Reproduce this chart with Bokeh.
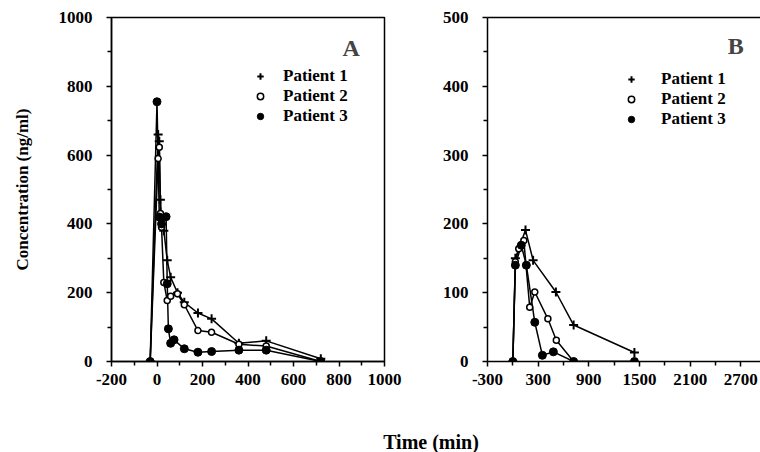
from bokeh.plotting import figure
from bokeh.models import (Legend, LegendItem, Label, LinearAxis, FixedTicker,
                          Div, Range1d)
from bokeh.layouts import row, column
from bokeh.embed import file_html
from bokeh.resources import INLINE

FONT = "Liberation Serif"

# ---------------- data: panel A ----------------
a_p1_t = [-30, 5, 10, 15, 20, 30, 45, 60, 90, 120, 180, 240, 360, 480, 720]
a_p1_c = [0, 660, 640, 470, 420, 380, 294, 245, 200, 172, 141, 124, 53, 60, 8]
a_p2_t = [-30, 5, 10, 15, 20, 30, 45, 60, 90, 120, 180, 240, 360, 480, 720]
a_p2_c = [0, 590, 623, 430, 390, 230, 177, 190, 197, 165, 90, 85, 50, 45, 0]
a_p3_t = [-30, 0, 10, 20, 40, 45, 50, 60, 75, 120, 180, 240, 360, 480, 720]
a_p3_c = [0, 755, 420, 400, 421, 226, 95, 53, 63, 37, 27, 29, 33, 33, 0]

# ---------------- data: panel B ----------------
b_p1_t = [0, 30, 150, 240, 510, 720, 1440]
b_p1_c = [0, 150, 191, 147, 101, 53, 13]
b_p2_t = [0, 30, 70, 130, 200, 260, 415, 515, 720, 1440]
b_p2_c = [0, 145, 164, 176, 79, 101, 62, 31, 0, 0]
b_p3_t = [0, 30, 100, 160, 260, 350, 480, 720, 1440]
b_p3_c = [0, 140, 169, 140, 57, 9, 14, 0, 0]

labels = ["Patient 1", "Patient 2", "Patient 3"]

a_xticks = [-200, 0, 200, 400, 600, 800, 1000]
a_xminor = [-100, 100, 300, 500, 700, 900]
a_yticks = [0, 200, 400, 600, 800, 1000]
a_yminor = [100, 300, 500, 700, 900]
b_xticks = [-300, 300, 900, 1500, 2100, 2700]
b_xminor = [0, 600, 1200, 1800, 2400]
b_yticks = [0, 100, 200, 300, 400, 500]
b_yminor = [50, 150, 250, 350, 450]


def style_axis(ax, size="17px"):
    ax.axis_line_width = 1.5
    ax.axis_line_color = "black"
    ax.major_tick_line_width = 1.5
    ax.minor_tick_line_width = 1.5
    ax.major_tick_line_color = "black"
    ax.minor_tick_line_color = "black"
    ax.major_tick_in = 0
    ax.major_tick_out = 5
    ax.minor_tick_in = 0
    ax.minor_tick_out = 4
    ax.major_label_text_font = FONT
    ax.major_label_text_font_style = "bold"
    ax.major_label_text_font_size = size
    ax.major_label_text_color = "black"


def panel(width, height, xr, yr, xt, xm, yt, ym, mbl, mbr):
    p = figure(width=width, height=height, x_range=Range1d(*xr), y_range=Range1d(*yr),
               output_backend="svg", toolbar_location=None,
               min_border_left=mbl, min_border_right=mbr,
               min_border_top=17, min_border_bottom=height - 17 - 344)
    p.xgrid.visible = False
    p.ygrid.visible = False
    p.background_fill_color = "white"
    p.border_fill_color = "white"
    p.xaxis.ticker = FixedTicker(ticks=xt, minor_ticks=xm)
    p.yaxis.ticker = FixedTicker(ticks=yt, minor_ticks=ym)
    style_axis(p.xaxis[0])
    style_axis(p.yaxis[0])
    p.xaxis.major_label_standoff = 7
    p.yaxis.major_label_standoff = 14
    p.xaxis.major_label_overrides = {t: str(t) for t in xt if t < 0}
    return p


def draw_series(p, ts, cs):
    rs = []
    markers = [dict(marker="cross", size=9, line_width=2, line_color="black"),
               dict(marker="circle", size=6, line_width=1.5, line_color="black", fill_color="white"),
               dict(marker="circle", size=8, line_color="black", fill_color="black")]
    for t, c in zip(ts, cs):
        p.line(t, c, line_color="black", line_width=1.5)
    for t, c, m in zip(ts, cs, markers):
        rs.append(p.scatter(t, c, **m))
    return rs


def add_legend(p, rs, x, y, standoff):
    leg = Legend(items=[LegendItem(label=l, renderers=[r]) for l, r in zip(labels, rs)],
                 location=(x, y), padding=0, spacing=0, margin=0,
                 glyph_width=16, glyph_height=20, label_height=20,
                 label_standoff=standoff, border_line_color=None,
                 background_fill_alpha=0,
                 label_text_font=FONT, label_text_font_style="bold",
                 label_text_font_size="17px", label_text_color="black")
    p.add_layout(leg)


H = 398
# ---------------- panel A ----------------
pA = panel(420, H, (-200, 1000), (0, 1000), a_xticks, a_xminor, a_yticks, a_yminor, 111, 36)
pA.outline_line_color = "black"
pA.outline_line_width = 1.5
pA.outline_line_alpha = 1
pA.yaxis.axis_label = "Concentration (ng/ml)"
pA.yaxis.axis_label_text_font = FONT
pA.yaxis.axis_label_text_font_style = "bold"
pA.yaxis.axis_label_text_font_size = "17px"
pA.yaxis.axis_label_text_color = "black"
pA.yaxis.axis_label_standoff = 24
rA = draw_series(pA, [a_p1_t, a_p2_t, a_p3_t], [a_p1_c, a_p2_c, a_p3_c])
add_legend(pA, rA, 141, 235, 15)
pA.add_layout(Label(x=854, y=910, text="A", text_align="center", text_baseline="middle",
                    text_font=FONT, text_font_style="bold", text_font_size="24px"))

# ---------------- panel B ----------------
pB = panel(340, H, (-300, 2933), (0, 500), b_xticks, b_xminor, b_yticks, b_yminor, 67, 0)
pB.outline_line_color = None
top = LinearAxis(ticker=FixedTicker(ticks=[]), major_tick_line_color=None,
                 minor_tick_line_color=None, major_label_text_font_size="0px",
                 axis_line_width=1.5, axis_line_color="black")
pB.add_layout(top, "above")
rB = draw_series(pB, [b_p1_t, b_p2_t, b_p3_t], [b_p1_c, b_p2_c, b_p3_c])
add_legend(pB, rB, 136, 232, 22)
pB.add_layout(Label(x=2640, y=459, text="B", text_align="center", text_baseline="middle",
                    text_font=FONT, text_font_style="bold", text_font_size="24px"))

xlabel = Div(text="Time (min)", width=200, height=19, margin=(35, 0, 0, 331),
             styles={"font-family": FONT, "font-weight": "bold", "font-size": "20px",
                     "text-align": "center", "line-height": "19px", "color": "black"})

layout = column(row(pA, pB), xlabel)

open("out.html", "w").write(file_html(layout, INLINE))
